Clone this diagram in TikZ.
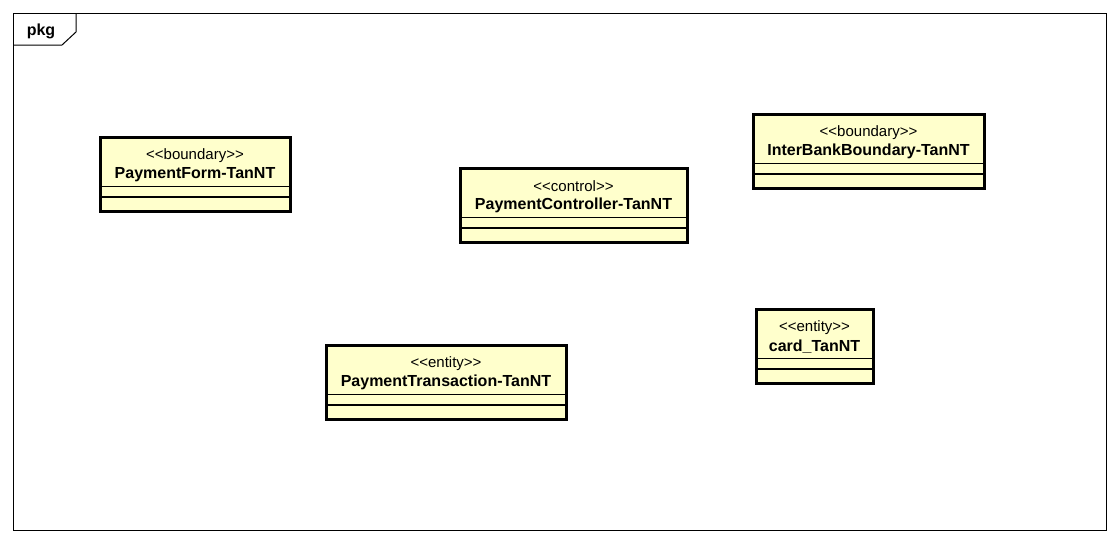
\documentclass[tikz,border=0pt]{standalone}
\usepackage{fontspec}
\setmainfont{Liberation Sans}
\usetikzlibrary{positioning}
\definecolor{classfill}{RGB}{255,255,204}
\tikzset{
  classbox/.style={draw,line width=3pt,fill=classfill,inner sep=0pt,outer sep=0pt,anchor=north west,minimum height=74pt},
  stereo/.style={font=\fontsize{15}{16}\selectfont,inner sep=0pt},
  cname/.style={font=\fontsize{16}{18}\selectfont\bfseries,inner sep=0pt},
  sepline/.style={line width=1.3pt},
}
\newcommand\stype[1]{<\kern0pt<#1>\kern0pt>}
\begin{document}
\begin{tikzpicture}[x=1pt,y=-1pt]
    \useasboundingbox(0,0)rectangle(1120,544);
    \draw[line width=1pt](13,13)rectangle(1106,530);%frame
    \draw[line width=1pt](13,45)--(62,45)--(76,32)--(76,13);%tab
    \node[font=\fontsize{16}{18}\selectfont\bfseries,inner sep=0pt](pkg)at(41,31){pkg};
    % PaymentForm
    \node[classbox,minimum width=190pt](form)at(100,137){};
    \node[stereo](formS)at([yshift=-18.5]form.north){\stype{boundary}};
    \node[cname](formN)at([yshift=-37.5]form.north){PaymentForm-TanNT};
    \draw[sepline]([yshift=-49.5]form.north west)--([yshift=-49.5]form.north east);
    \draw[sepline]([yshift=-60]form.north west)--([yshift=-60]form.north east);
    % PaymentController
    \node[classbox,minimum width=227pt](ctrl)at(460,168){};
    \node[stereo](ctrlS)at([yshift=-18.5]ctrl.north){\stype{control}};
    \node[cname](ctrlN)at([yshift=-37.5]ctrl.north){PaymentController-TanNT};
    \draw[sepline]([yshift=-49.5]ctrl.north west)--([yshift=-49.5]ctrl.north east);
    \draw[sepline]([yshift=-60]ctrl.north west)--([yshift=-60]ctrl.north east);
    % InterBankBoundary
    \node[classbox,minimum width=231pt](bank)at(753,114){};
    \node[stereo](bankS)at([yshift=-18.5]bank.north){\stype{boundary}};
    \node[cname](bankN)at([yshift=-37.5]bank.north){InterBankBoundary-TanNT};
    \draw[sepline]([yshift=-49.5]bank.north west)--([yshift=-49.5]bank.north east);
    \draw[sepline]([yshift=-60]bank.north west)--([yshift=-60]bank.north east);
    % card
    \node[classbox,minimum width=117pt](card)at(756,309){};
    \node[stereo](cardS)at([yshift=-18.5]card.north){\stype{entity}};
    \node[cname](cardN)at([yshift=-37.5]card.north){card\_TanNT};
    \draw[sepline]([yshift=-49.5]card.north west)--([yshift=-49.5]card.north east);
    \draw[sepline]([yshift=-60]card.north west)--([yshift=-60]card.north east);
    % PaymentTransaction
    \node[classbox,minimum width=240pt](trans)at(326,345){};
    \node[stereo](transS)at([yshift=-18.5]trans.north){\stype{entity}};
    \node[cname](transN)at([yshift=-37.5]trans.north){PaymentTransaction-TanNT};
    \draw[sepline]([yshift=-49.5]trans.north west)--([yshift=-49.5]trans.north east);
    \draw[sepline]([yshift=-60]trans.north west)--([yshift=-60]trans.north east);
  \end{tikzpicture}
\end{document}
